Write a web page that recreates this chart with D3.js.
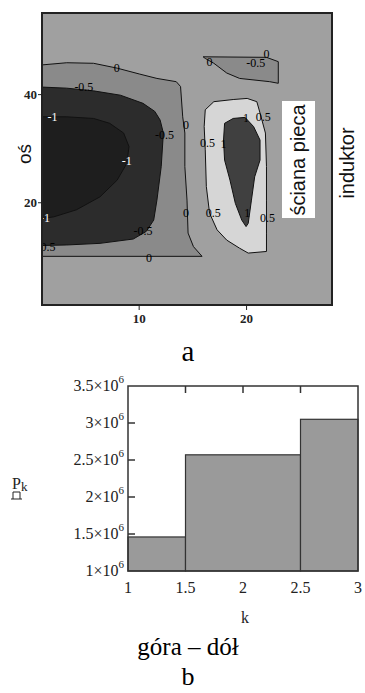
<!DOCTYPE html>
<html><head><meta charset="utf-8">
<script src="https://cdn.jsdelivr.net/npm/d3@7"></script>
<style>body{margin:0;background:#fff}svg{display:block}</style>
</head><body>
<svg id="c" width="365" height="693"></svg>
<script>
// ---------- Data: contour plot (a), contour lines in data units (x: 1..28, y: 1..55) ----------
const contourXDomain = [1, 28];
const contourYDomain = [1, 55];
const contourXTicks = [10, 20];
const contourYTicks = [20, 40];

const contourZeroLeft = [[1,45.4],[3.3,45.8],[5.8,45.7],[8.0,44.8],[10.1,43.7],[11.7,42.9],[13.5,42.3],[13.9,41.4],[14.1,35.8],[14.3,32.8],[14.3,26.6],[14.5,20.4],[14.6,14.3],[15.1,11.8],[15.9,10.0],[1,10.0]];
const contourMinusHalfLeft = [[1,41.3],[3.3,41.1],[5.8,40.6],[8.3,39.8],[10.4,38.3],[11.5,36.8],[12.0,35.2],[12.3,32.8],[12.1,26.6],[11.7,20.4],[11.4,16.7],[10.7,14.6],[9.5,13.2],[6.4,12.4],[3.3,12.1],[1,12.0]];
const contourMinusOneLeft = [[1,35.8],[3.3,35.8],[5.8,35.5],[7.3,34.6],[8.6,32.8],[9.1,30.3],[8.9,27.2],[8.0,24.1],[6.4,21.0],[4.2,18.6],[2.1,17.3],[1,17.0]];
const contourTopPatch = [[16.0,46.9],[21.9,46.8],[23.0,46.0],[23.0,42.0],[22.2,42.3],[19.4,42.9],[18.2,43.9],[17.0,45.7],[16.2,46.6]];
const contourHalfRight = [[16.2,37.1],[17.0,38.6],[18.8,39.0],[20.1,39.2],[21.0,38.6],[21.3,36.5],[21.8,32.8],[21.9,26.6],[21.9,20.4],[21.9,14.3],[21.9,10.9],[20.2,10.6],[19.4,11.5],[18.2,13.0],[17.3,14.9],[16.6,18.0],[16.3,22.9],[16.2,29.7],[16.1,34.0]];
const contourOneRight = [[18.0,34.6],[18.8,35.5],[19.9,35.7],[20.7,34.0],[21.3,31.5],[21.3,27.8],[20.8,24.7],[20.5,20.4],[20.2,16.1],[20.0,15.5],[19.6,16.7],[19.0,19.8],[18.5,24.1],[18.0,27.8],[17.9,31.5]];

// band drawn inside each contour (the band below its level)
const contourRegions = [
  {band: "-0.5..0", points: contourZeroLeft},
  {band: "-1..-0.5", points: contourMinusHalfLeft},
  {band: "<-1", points: contourMinusOneLeft},
  {band: "-0.5..0", points: contourTopPatch},
  {band: "0.5..1", points: contourHalfRight},
  {band: ">1", points: contourOneRight}
];
const contourBands = ["0..0.5", "-0.5..0", "-1..-0.5", "<-1", "0.5..1", ">1"];

const contourLabels = [
  {x:7.95,y:44.8,t:"0"},{x:4.9,y:41.3,t:"-0.5"},{x:1.98,y:35.8,t:"-1"},
  {x:14.4,y:34.3,t:"0"},{x:12.4,y:32.4,t:"-0.5"},{x:8.9,y:27.6,t:"-1"},
  {x:1.28,y:17.2,t:"-1"},{x:14.4,y:18.1,t:"0"},{x:10.4,y:14.8,t:"-0.5"},
  {x:1.37,y:11.8,t:"-0.5"},{x:10.96,y:9.8,t:"0"},
  {x:16.6,y:45.9,t:"0"},{x:20.9,y:45.8,t:"-0.5"},{x:21.9,y:47.5,t:"0"},
  {x:20.0,y:35.7,t:"1"},{x:21.6,y:35.8,t:"0.5"},{x:16.4,y:31.0,t:"0.5"},
  {x:17.9,y:30.9,t:"1"},{x:16.95,y:18.0,t:"0.5"},{x:20.1,y:18.1,t:"1"},
  {x:22.0,y:17.1,t:"0.5"}
];

// ---------- Data: step chart (b) ----------
const kStart = [1, 1.5, 2.5];
const kEnd = [1.5, 2.5, 3];
const Pk = [1.46e6, 2.57e6, 3.05e6];
const barXTicks = [1, 1.5, 2, 2.5, 3];
const barYTicks = [1e6, 1.5e6, 2e6, 2.5e6, 3e6, 3.5e6];

// ---------- Drawing ----------
const svg = d3.select("#c");
const serif = "'Liberation Serif','Times New Roman',serif";
const sans = "'Liberation Sans',Arial,sans-serif";

// ----- (a) contour -----
const xC = d3.scaleLinear().domain(contourXDomain).range([42, 332]);
const yC = d3.scaleLinear().domain(contourYDomain).range([305, 13]);
const bandColor = d3.scaleOrdinal().domain(contourBands)
  .range(["#a0a0a0", "#8a8a8a", "#2c2c2c", "#1e1e1e", "#d6d6d6", "#404040"]);

svg.append("defs").append("clipPath").attr("id", "plotclip")
  .append("rect").attr("x", xC(1)).attr("y", yC(55)).attr("width", xC(28) - xC(1)).attr("height", yC(1) - yC(55));

const gC = svg.append("g").attr("clip-path", "url(#plotclip)");
gC.append("rect").attr("x", xC(1)).attr("y", yC(55)).attr("width", xC(28) - xC(1)).attr("height", yC(1) - yC(55))
  .attr("fill", bandColor("0..0.5"));

const line = d3.line().x(d => xC(d[0])).y(d => yC(d[1])).curve(d3.curveLinearClosed);
gC.selectAll("path.region").data(contourRegions).join("path")
  .attr("class", "region")
  .attr("d", d => line(d.points))
  .attr("fill", d => bandColor(d.band))
  .attr("stroke", "#111").attr("stroke-width", 1);

gC.selectAll("text.lab").data(contourLabels).join("text")
  .attr("class", "lab")
  .attr("x", d => xC(d.x)).attr("y", d => yC(d.y)).attr("dy", "0.35em")
  .attr("text-anchor", "middle")
  .attr("font-family", serif).attr("font-size", 12)
  .attr("fill", d => d.t === "-1" ? "#fff" : "#000")
  .text(d => d.t);

// frame
svg.append("rect").attr("x", xC(1)).attr("y", yC(55)).attr("width", xC(28) - xC(1)).attr("height", yC(1) - yC(55))
  .attr("fill", "none").attr("stroke", "#222").attr("stroke-width", 2);

// axes
const axC = svg.append("g").attr("transform", `translate(0,${yC(1)})`)
  .call(d3.axisBottom(xC).tickValues(contourXTicks).tickSize(5).tickSizeOuter(0).tickPadding(4));
const ayC = svg.append("g").attr("transform", `translate(${xC(1)},0)`)
  .call(d3.axisLeft(yC).tickValues(contourYTicks).tickSize(4).tickSizeOuter(0).tickPadding(1));
[axC, ayC].forEach(g => {
  g.select(".domain").remove();
  g.selectAll("line").attr("stroke", "#222");
  g.selectAll("text").attr("font-family", serif).attr("font-size", 13).attr("font-weight", "bold").attr("fill", "#222");
});

// annotations
svg.append("text").attr("transform", `translate(31,154) rotate(-90)`).attr("text-anchor", "middle")
  .attr("font-family", sans).attr("font-size", 19).attr("fill", "#111").text("oś");
svg.append("rect").attr("x", 282).attr("y", 101).attr("width", 33).attr("height", 117).attr("fill", "#fff");
svg.append("text").attr("transform", `translate(305,160) rotate(-90)`).attr("text-anchor", "middle")
  .attr("font-family", sans).attr("font-size", 20).attr("fill", "#111").text("ściana pieca");
svg.append("text").attr("transform", `translate(354,163) rotate(-90)`).attr("text-anchor", "middle")
  .attr("font-family", sans).attr("font-size", 20).attr("fill", "#111").text("induktor");

svg.append("text").attr("x", 188).attr("y", 361).attr("text-anchor", "middle")
  .attr("font-family", serif).attr("font-size", 29).attr("fill", "#000").text("a");

// ----- (b) step chart -----
const xB = d3.scaleLinear().domain([1, 3]).range([128, 358]);
const yB = d3.scaleLinear().domain([1e6, 3.5e6]).range([571, 386]);

svg.selectAll("rect.bar").data(Pk).join("rect")
  .attr("class", "bar")
  .attr("x", (d, i) => xB(kStart[i])).attr("width", (d, i) => xB(kEnd[i]) - xB(kStart[i]))
  .attr("y", d => yB(d)).attr("height", d => yB(1e6) - yB(d))
  .attr("fill", "#9a9a9a").attr("stroke", "#333").attr("stroke-width", 1.2);

svg.append("rect").attr("x", xB(1)).attr("y", yB(3.5e6)).attr("width", xB(3) - xB(1)).attr("height", yB(1e6) - yB(3.5e6))
  .attr("fill", "none").attr("stroke", "#333").attr("stroke-width", 1.5);

// inner ticks
svg.selectAll("line.tx").data(barXTicks.slice(1, -1)).join("line").attr("class", "tx")
  .attr("x1", d => xB(d)).attr("x2", d => xB(d)).attr("y1", yB(3.5e6)).attr("y2", yB(3.5e6) + 7)
  .attr("stroke", "#333").attr("stroke-width", 1.5);
svg.selectAll("line.ty").data(barYTicks.slice(1, -1)).join("line").attr("class", "ty")
  .attr("x1", xB(1)).attr("x2", xB(1) + 7).attr("y1", d => yB(d)).attr("y2", d => yB(d))
  .attr("stroke", "#333").attr("stroke-width", 1.5);

// y tick labels
const yl = svg.selectAll("text.yl").data(barYTicks).join("text").attr("class", "yl")
  .attr("x", xB(1) - 4).attr("y", d => yB(d) + 5).attr("text-anchor", "end")
  .attr("font-family", serif).attr("font-size", 16).attr("fill", "#222");
yl.append("tspan").text(d => d3.format("~g")(d / 1e6) + "×10");
yl.append("tspan").attr("dy", -8).attr("font-size", 11).text("6");

// x tick labels
svg.selectAll("text.xl").data(barXTicks).join("text").attr("class", "xl")
  .attr("x", d => xB(d)).attr("y", 593).attr("text-anchor", "middle")
  .attr("font-family", serif).attr("font-size", 16).attr("fill", "#222")
  .text(d => d3.format("~g")(d));

svg.append("text").attr("x", 245).attr("y", 623).attr("text-anchor", "middle")
  .attr("font-family", serif).attr("font-size", 16).attr("fill", "#222").text("k");

// y label P_k with placeholder symbol
const pl = svg.append("text").attr("x", 12).attr("y", 489)
  .attr("font-family", serif).attr("font-size", 16).attr("fill", "#222");
pl.append("tspan").text("P");
pl.append("tspan").attr("dy", 2).attr("font-size", 13).text("k");
svg.append("path").attr("d", "M11,499 H22 M13,499 V492 H20 V499")
  .attr("fill", "none").attr("stroke", "#222").attr("stroke-width", 1);

svg.append("text").attr("x", 188).attr("y", 655).attr("text-anchor", "middle")
  .attr("font-family", serif).attr("font-size", 25).attr("fill", "#000").text("góra – dół");
svg.append("text").attr("x", 188).attr("y", 685).attr("text-anchor", "middle")
  .attr("font-family", serif).attr("font-size", 26).attr("fill", "#000").text("b");
</script>
</body></html>
